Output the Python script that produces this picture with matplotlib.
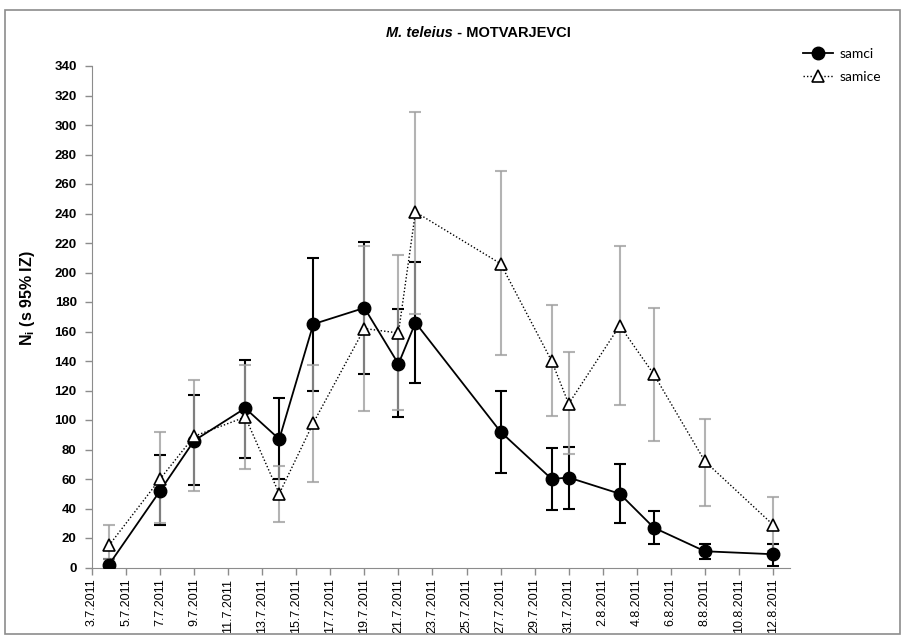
import matplotlib
matplotlib.use("Agg")
import matplotlib.pyplot as plt
from matplotlib import font_manager
from matplotlib.patches import Rectangle
import pandas as pd
import numpy as np

names = {f.name for f in font_manager.fontManager.ttflist}
narrow = 'Liberation Sans Narrow' if 'Liberation Sans Narrow' in names else 'Liberation Sans'

# sampling dates
dates = ['2011-07-04', '2011-07-07', '2011-07-09', '2011-07-12', '2011-07-14', '2011-07-16',
         '2011-07-19', '2011-07-21', '2011-07-22', '2011-07-27', '2011-07-30', '2011-07-31',
         '2011-08-03', '2011-08-05', '2011-08-08', '2011-08-12']

# males (samci): estimate and 95% interval
samci = [2, 52, 86, 108, 87, 165, 176, 138, 166, 92, 60, 61, 50, 27, 11, 9]
samci_lo = [0, 29, 56, 74, 60, 120, 131, 102, 125, 64, 39, 40, 30, 16, 6, 1]
samci_hi = [6, 76, 117, 141, 115, 210, 221, 175, 207, 120, 81, 82, 70, 38, 16, 16]

# females (samice)
samice = [15, 60, 89, 102, 50, 98, 162, 159, 241, 206, 140, 111, 164, 131, 72, 29]
samice_lo = [6, 30, 52, 67, 31, 58, 106, 107, 172, 144, 103, 77, 110, 86, 42, 11]
samice_hi = [29, 92, 127, 137, 69, 137, 218, 212, 309, 269, 178, 146, 218, 176, 101, 48]

x = pd.to_datetime(dates)
m = np.array(samci)
f = np.array(samice)
m_err = [m - np.array(samci_lo), np.array(samci_hi) - m]
f_err = [f - np.array(samice_lo), np.array(samice_hi) - f]

fig = plt.figure(figsize=(9.06, 6.37), dpi=100)
ax = fig.add_axes([92/906, 1 - 567.5/637, (790-92)/906, (567.5-66)/637])

ax.errorbar(x, m, yerr=m_err, fmt='none', ecolor='black', elinewidth=1.5,
            capsize=4, capthick=1.5, zorder=2)
ax.errorbar(x, f, yerr=f_err, fmt='none', ecolor='#a0a0a0', elinewidth=1.5,
            capsize=4, capthick=1.5, alpha=0.8, zorder=3)
ax.plot(x, m, color='black', lw=1.3, marker='o', ms=9, mfc='black', mec='black',
        label='samci', zorder=4)
ax.plot(x, f, color='black', lw=1.0, ls=(0, (1, 1.5)), marker='^', ms=8.5,
        mfc='white', mec='black', mew=1.2, label='samice', zorder=5)

ax.set_ylim(0, 340)
ax.set_yticks(np.arange(0, 341, 20))
ax.set_xlim(pd.Timestamp('2011-07-03'), pd.Timestamp('2011-08-13'))
ticks = pd.date_range('2011-07-03', '2011-08-12', freq='2D')
ax.set_xticks(ticks)
ax.set_xticklabels([f"{d.day}.{d.month}.{d.year}" for d in ticks], rotation=90,
                   family=narrow, fontsize=9)
for lab in ax.get_yticklabels():
    lab.set_family(narrow)
    lab.set_fontweight('bold')
    lab.set_fontsize(9.5)

for s in ['top', 'right']:
    ax.spines[s].set_visible(False)
for s in ['left', 'bottom']:
    ax.spines[s].set_color('#8c8c8c')
ax.tick_params(axis='both', color='#8c8c8c', length=5, width=1, direction='out')
ax.tick_params(axis='y', pad=6)
ax.tick_params(axis='x', pad=3)

ax.set_ylabel(r'N$_\mathregular{i}$ (s 95% IZ)', family=narrow, fontweight='bold',
              fontsize=11.5)
ax.yaxis.set_label_coords(-0.079, 0.537)

fig.text(0.5, 1 - 33/637, 'M. teleius', ha='right', va='center', family=narrow,
         fontweight='bold', style='italic', fontsize=10.5)
fig.text(0.5, 1 - 33/637, ' - MOTVARJEVCI', ha='left', va='center', family=narrow,
         fontweight='bold', fontsize=10.5)

fig.legend(loc='upper left', bbox_to_anchor=(790/906, 1 - 35/637), frameon=False,
           prop={'family': 'Lato', 'size': 10}, handlelength=2.2, labelspacing=0.85,
           handletextpad=0.5)

fig.patches.append(Rectangle((5/906, 1 - 634/637), 895/906, 624/637, transform=fig.transFigure,
                             fill=False, edgecolor='#8c8c8c', lw=1.2))

fig.savefig('out.png', dpi=100)
